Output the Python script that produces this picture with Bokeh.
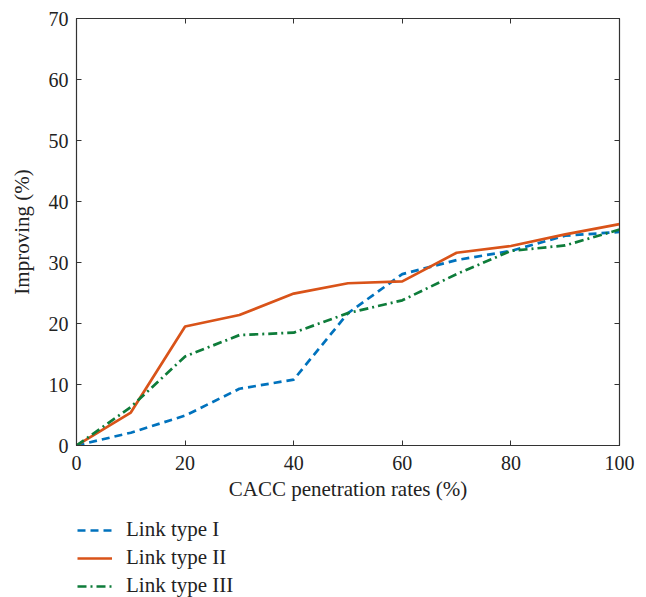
from bokeh.plotting import figure
from bokeh.models import Legend, LegendItem, LinearAxis, Range1d, FixedTicker
from bokeh.layouts import column
from bokeh.embed import file_html
from bokeh.resources import INLINE

rates = [0, 10, 20, 30, 40, 50, 60, 70, 80, 90, 100]
link_type_1 = [0, 2.1, 4.9, 9.3, 10.8, 21.7, 28.1, 30.4, 31.9, 34.4, 35.0]
link_type_2 = [0, 5.4, 19.5, 21.4, 24.9, 26.6, 26.9, 31.6, 32.7, 34.6, 36.3]
link_type_3 = [0, 6.3, 14.6, 18.1, 18.5, 21.7, 23.8, 28.1, 31.9, 32.8, 35.4]
series_names = ["Link type I", "Link type II", "Link type III"]
x_ticks = [0, 20, 40, 60, 80, 100]
y_ticks = [0, 10, 20, 30, 40, 50, 60, 70]

FONT = "Liberation Serif"
AX = "#333333"
TXT = "#222222"
styles = [dict(line_color="#0072BD", line_width=2.7, line_dash="8 5"),
          dict(line_color="#D95319", line_width=2.7),
          dict(line_color="#0E7C3A", line_width=2.7, line_dash="9 4 2 4")]
series = [link_type_1, link_type_2, link_type_3]

p = figure(width=640, height=505, output_backend="svg", toolbar_location=None,
           x_range=Range1d(0, 100), y_range=Range1d(0, 70),
           min_border_left=76, min_border_right=21, min_border_top=18, min_border_bottom=60)
p.grid.visible = False
p.outline_line_color = AX
p.outline_line_width = 1.2

for ys, st in zip(series, styles):
    p.line(rates, ys, **st)

for ax in (p.xaxis[0], p.yaxis[0]):
    ax.major_tick_in = 5
    ax.major_tick_out = 0
    ax.minor_tick_line_color = None
    ax.axis_line_color = AX
    ax.major_tick_line_color = AX
    ax.major_label_text_font = FONT
    ax.major_label_text_font_size = "20px"
    ax.major_label_text_color = TXT
    ax.axis_label_text_font = FONT
    ax.axis_label_text_font_size = "21px"
    ax.axis_label_text_font_style = "normal"
    ax.axis_label_text_color = TXT

p.xaxis[0].ticker = FixedTicker(ticks=x_ticks)
p.yaxis[0].ticker = FixedTicker(ticks=y_ticks)
p.xaxis[0].axis_label = "CACC penetration rates (%)"
p.yaxis[0].axis_label = "Improving (%)"
p.xaxis[0].major_label_standoff = 10
p.yaxis[0].major_label_standoff = 8
p.xaxis[0].axis_label_standoff = 4
p.yaxis[0].axis_label_standoff = 12

top = LinearAxis(ticker=FixedTicker(ticks=x_ticks), major_tick_in=5, major_tick_out=0,
                 minor_tick_line_color=None, axis_line_color=AX, major_tick_line_color=AX,
                 major_label_overrides={t: "" for t in x_ticks}, major_label_standoff=0)
right = LinearAxis(ticker=FixedTicker(ticks=y_ticks), major_tick_in=5, major_tick_out=0,
                   minor_tick_line_color=None, axis_line_color=AX, major_tick_line_color=AX,
                   major_label_overrides={t: "" for t in y_ticks}, major_label_standoff=0)
p.add_layout(top, "above")
p.add_layout(right, "right")

# legend panel below the chart
lg = figure(width=640, height=92, output_backend="svg", toolbar_location=None,
            x_range=Range1d(0, 100), y_range=Range1d(0, 70),
            x_axis_type=None, y_axis_type=None,
            min_border_left=76, min_border_right=21, min_border_top=0, min_border_bottom=0)
lg.grid.visible = False
lg.outline_line_color = None
items = []
for name, ys, st in zip(series_names, series, styles):
    r = lg.line(rates, ys, visible=False, **st)
    items.append(LegendItem(label=name, renderers=[r]))

legend = Legend(items=items, location=(1, -1), orientation="vertical",
                label_text_font=FONT, label_text_font_size="21px", label_text_color=TXT,
                glyph_width=35, glyph_height=24, label_height=24, spacing=3,
                label_standoff=14, border_line_color=None, background_fill_alpha=0,
                inactive_fill_alpha=0, margin=0, padding=0)
lg.add_layout(legend, "center")

layout = column(p, lg, spacing=0)
open("out.html", "w").write(file_html(layout, INLINE))
